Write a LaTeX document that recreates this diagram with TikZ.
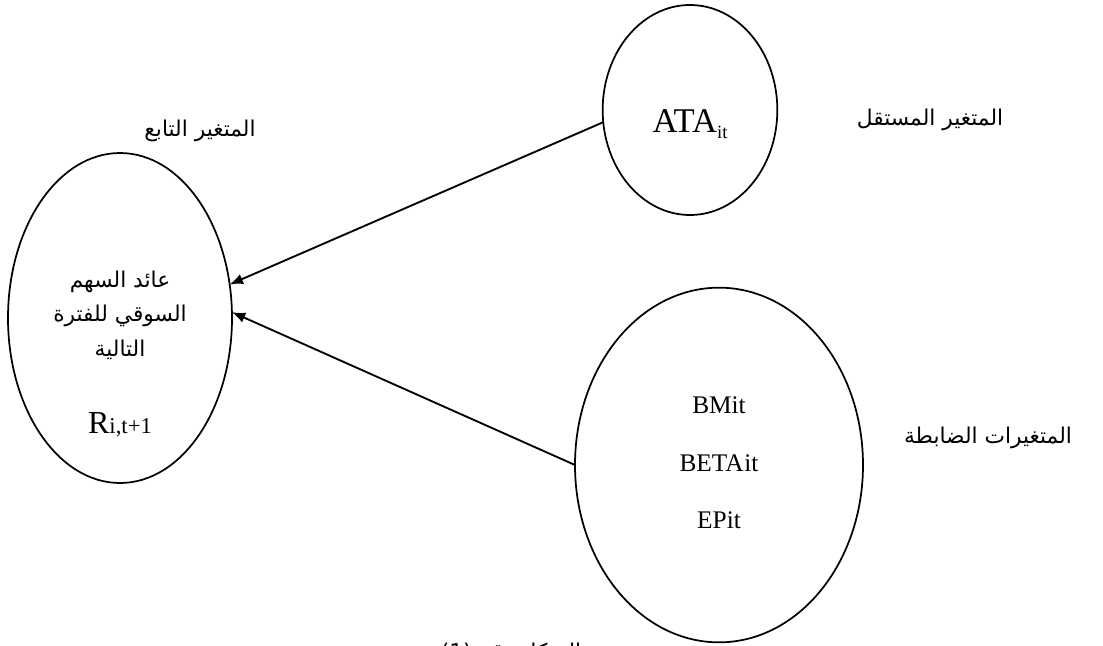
\documentclass[tikz,border=0pt]{standalone}
\usepackage{fontspec}
\setmainfont{Liberation Serif}
\newfontfamily\arabicfont[Script=Arabic]{DejaVu Sans}
\TeXXeTstate=1
\usetikzlibrary{shapes.geometric}
\usetikzlibrary{arrows.meta}
\tikzset{
  Kreis/.style={draw, ellipse, line width=1.3pt, inner sep=0pt, outer sep=0pt}, % Variablen
  Titel/.style={font=\arabicfont\fontsize{16.3}{19}\selectfont}, % arabische Texte
  Wert/.style={font=\fontsize{#1}{#1}\selectfont, inner sep=0pt}, % Variablennamen
  Wirkpfeil/.style={line width=1.4pt,-{Latex[length=10pt,width=8pt]}} % Pfeile
}
\begin{document}
\begin{tikzpicture}[x=0.75pt, y=-0.75pt]
\useasboundingbox (0,0) rectangle (1103,646);

%Variablen
\node[Kreis, minimum width=168pt, minimum height=247.5pt] (Rend) at (120,318) {};
\node[Kreis, minimum width=131pt, minimum height=157.5pt] (Ata) at (690,110) {};
\node[Kreis, minimum width=216pt, minimum height=266pt] (Kontr) at (719,465) {};

%Inhalte
\node[Titel] (R1) at (120,282) {\beginR عائد السهم\endR};
\node[Titel] (R2) at (120,316) {\beginR السوقي للفترة\endR};
\node[Titel] (R3) at (120,350) {\beginR التالية\endR};
\node[Wert=24] (R4) at (120,425) {R\fontsize{17}{17}\selectfont i,t+1};
\node[Wert=26] (A1) at (690,124) {ATA\raisebox{-0.35ex}{\fontsize{14}{14}\selectfont it}};
\node[Wert=19] (K1) at (719,405) {BMit};
\node[Wert=19] (K2) at (719,463) {BETA\kern0.5pt it};
\node[Wert=19] (K3) at (719,520) {EPit};

%Beschriftungen
\node[Titel] (LRend) at (200,131) {\beginR المتغير التابع\endR};
\node[Titel] (LAta) at (930,120) {\beginR المتغير المستقل\endR};
\node[Titel] (LKontr) at (988,438) {\beginR المتغيرات الضابطة\endR};
\node[Titel, anchor=base] (Abb) at (511,659) {\beginR الشكل رقم \beginL(1)\endL\endR};

%Pfeile
\draw[Wirkpfeil] (Ata.188) -- (Rend.17);
\draw[Wirkpfeil] (Kontr.180) -- (Rend.3);
\end{tikzpicture}
\end{document}
